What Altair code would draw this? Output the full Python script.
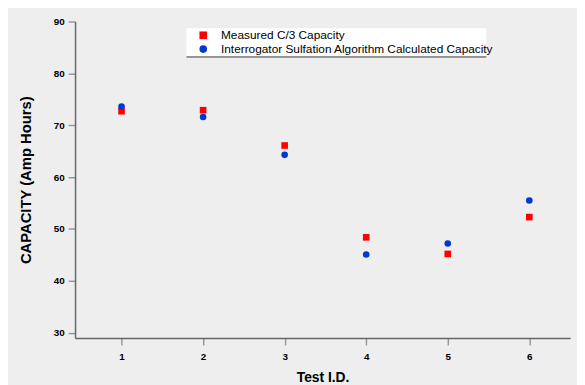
import altair as alt
import pandas as pd

test_ids = [1, 2, 3, 4, 5, 6]
measured = [72.7, 72.9, 66.1, 48.4, 45.2, 52.3]
calculated = [73.6, 71.6, 64.3, 45.1, 47.2, 55.5]
series_names = ["Measured C/3 Capacity", "Interrogator Sulfation Algorithm Calculated Capacity"]
series_colors = ["#FF0000", "#0038D0"]
series_shapes = ["square", "circle"]
y_ticks = [30, 40, 50, 60, 70, 80, 90]

rows = []
for t, m, c in zip(test_ids, measured, calculated):
    rows.append({"test": t, "cap": m, "series": series_names[0]})
    rows.append({"test": t, "cap": c, "series": series_names[1]})
df = pd.DataFrame(rows)

font = "Liberation Sans"

# legend box background and its bottom edge (decoration)
box = alt.Chart(pd.DataFrame({"a": [0]})).mark_rect(color="white").encode(
    x=alt.value(113), x2=alt.value(417), y=alt.value(7), y2=alt.value(36)
)
box_line = alt.Chart(pd.DataFrame({"a": [0]})).mark_rule(color="#333333", strokeWidth=1).encode(
    x=alt.value(113), x2=alt.value(417), y=alt.value(36)
)

points = alt.Chart(df).mark_point(filled=True, opacity=1, size=45).encode(
    x=alt.X("test:Q", scale=alt.Scale(domain=[0.43, 6.5], nice=False, zero=False),
            axis=alt.Axis(values=test_ids, title="Test I.D.", grid=False, format="d")),
    y=alt.Y("cap:Q", scale=alt.Scale(domain=[29, 90], nice=False, zero=False),
            axis=alt.Axis(values=y_ticks, title="CAPACITY (Amp Hours)", grid=False)),
    color=alt.Color("series:N", scale=alt.Scale(domain=series_names, range=series_colors),
                    legend=alt.Legend(title=None, orient="none", legendX=124, legendY=8,
                                      padding=0, symbolSize=60,
                                      labelFontSize=12, labelFont=font, labelColor="black",
                                      labelOffset=12, rowPadding=2, labelLimit=400,
                                      symbolStrokeWidth=0)),
    shape=alt.Shape("series:N", scale=alt.Scale(domain=series_names, range=series_shapes)),
)

chart = alt.layer(box, box_line, points).properties(
    width=502, height=321,
    autosize=alt.AutoSizeParams(type="none"),
    padding={"left": 68, "top": 11, "right": 7, "bottom": 45},
    background="#EEEEEE",
).configure_view(stroke=None, fill="#EEEEEE").configure_axis(
    labelFont=font, labelFontWeight="bold", labelFontSize=10, labelColor="black",
    titleFont=font, titleFontWeight="bold", titleFontSize=14, titleColor="black",
    domainColor="#666666", domainWidth=1.5, tickColor="#999999", tickSize=7, tickWidth=1.5,
    labelPadding=4,
).configure_axisX(titlePadding=9, labelPadding=7).configure_axisY(titlePadding=20, titleFontSize=15)

chart.save("out.html", embed_options={"renderer": "svg", "actions": False})
